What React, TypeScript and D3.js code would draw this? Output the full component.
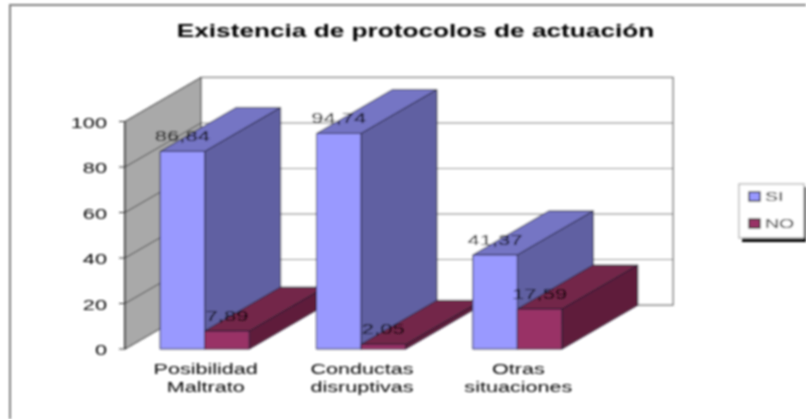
import React from 'react';
import * as d3 from 'd3';

const title = 'Existencia de protocolos de actuación';
const categories = ['Posibilidad Maltrato', 'Conductas disruptivas', 'Otras situaciones'];
const categoryLines = [['Posibilidad', 'Maltrato'], ['Conductas', 'disruptivas'], ['Otras', 'situaciones']];
const seriesNames = ['SI', 'NO'];
const si = [86.84, 94.74, 41.37];
const no = [7.89, 2.05, 17.59];
const ticks = [0, 20, 40, 60, 80, 100];

const colors: Record<string, { front: string; top: string; side: string }> = {
  SI: { front: '#9999ff', top: '#7575c4', side: '#6060a2' },
  NO: { front: '#993366', top: '#732648', side: '#5e1f3b' }
};

const width = 806;
const height = 419;
const depthX = 76;
const depthY = -44;
const font = '"Liberation Sans", Arial, sans-serif';

const y = d3.scaleLinear().domain([0, 100]).range([349, 121.5]);
const x0 = d3.scaleBand<string>().domain(categories).range([126.5, 595.5]).paddingInner(0.43).paddingOuter(0.215);
const x1 = d3.scaleBand<string>().domain(seriesNames).range([0, x0.bandwidth()]);

const poly = (pts: [number, number][]) => {
  const p = d3.path();
  pts.forEach((pt, i) => (i === 0 ? p.moveTo(pt[0], pt[1]) : p.lineTo(pt[0], pt[1])));
  p.closePath();
  return p.toString();
};

// the picture stretches its text sideways, so every label gets a horizontal scale
const Label = ({ x, y: ty, size, sx = 1.45, anchor = 'middle', weight = 400, fill = '#000', children }: any) => (
  <text
    transform={`translate(${x},${ty}) scale(${sx},1)`}
    fontSize={size}
    fontFamily={font}
    fontWeight={weight}
    textAnchor={anchor}
    fill={fill}
  >
    {children}
  </text>
);

const Bar = ({ left, w, value, name }: { left: number; w: number; value: number; name: string }) => {
  const top = y(value);
  const base = y(0);
  const c = colors[name];
  const right = left + w;
  const edge = { stroke: '#1c1c30', strokeWidth: 0.9, strokeLinejoin: 'round' as const };
  return (
    <g>
      <path
        d={poly([[right, base], [right + depthX, base + depthY], [right + depthX, top + depthY], [right, top]])}
        fill={c.side}
        {...edge}
      />
      <path
        d={poly([[left, top], [left + depthX, top + depthY], [right + depthX, top + depthY], [right, top]])}
        fill={c.top}
        {...edge}
      />
      <rect x={left} y={top} width={w} height={base - top} fill={c.front} {...edge} />
    </g>
  );
};

export default function App() {
  const backLeft = 125 + depthX;
  const backRight = 596 + depthX + 1;
  return (
    <svg
      width={width}
      height={height}
      style={{ position: 'absolute', left: 0, top: 0, display: 'block', background: '#fff' }}
    >
      <defs>
        <filter id="soft" x="0" y="0" width="100%" height="100%" filterUnits="userSpaceOnUse">
          <feGaussianBlur stdDeviation="0.8" />
        </filter>
      </defs>
      <g filter="url(#soft)">
        {/* outer chart border, open on the right */}
        <path d={`M${width},5H10V${height}`} fill="none" stroke="#808080" strokeWidth={2} />

        <Label x={415.5} y={37} size={19} sx={1.38} weight={700}>{title}</Label>

        {/* back wall and grid */}
        <rect
          x={backLeft}
          y={y(100) + depthY}
          width={backRight - backLeft}
          height={y(0) - y(100)}
          fill="#fff"
          stroke="#555"
          strokeWidth={1.2}
        />
        {ticks.filter(t => t > 0 && t < 100).map(t => (
          <line key={t} x1={backLeft} x2={backRight} y1={y(t) + depthY} y2={y(t) + depthY} stroke="#777" strokeWidth={1.1} />
        ))}

        {/* side wall */}
        <path
          d={poly([[125, y(0)], [backLeft, y(0) + depthY], [backLeft, y(100) + depthY], [125, y(100)]])}
          fill="#a9a9a9"
          stroke="#444"
          strokeWidth={0.9}
        />
        {ticks.map(t => (
          <line key={t} x1={125} x2={backLeft} y1={y(t)} y2={y(t) + depthY} stroke="#333" strokeWidth={0.9} />
        ))}

        {/* y axis */}
        <line x1={125} x2={125} y1={y(0)} y2={y(100)} stroke="#111" strokeWidth={1.4} />
        {ticks.map(t => (
          <g key={t}>
            <line x1={119} x2={125} y1={y(t)} y2={y(t)} stroke="#333" strokeWidth={1} />
            <Label x={107} y={y(t) + 6} size={15} anchor="end">{t}</Label>
          </g>
        ))}

        {categories.map((cat, i) => {
          const left = x0(cat)!;
          return (
            <g key={cat}>
              <Bar left={left + x1('SI')!} w={x1.bandwidth()} value={si[i]} name="SI" />
              <Bar left={left + x1('NO')!} w={x1.bandwidth()} value={no[i]} name="NO" />
            </g>
          );
        })}

        {/* value labels go on top of every bar */}
        {categories.map((cat, i) => (
          <g key={cat}>
            {[si[i], no[i]].map((v, j) => (
              <Label
                key={j}
                x={x0(cat)! + x1(seriesNames[j])! + x1.bandwidth() / 2}
                y={y(v) - 10}
                size={14.5}
                sx={1.52}
              >
                {v.toFixed(2).replace('.', ',')}
              </Label>
            ))}
            {categoryLines[i].map((line, j) => (
              <Label key={line} x={x0(cat)! + x0.bandwidth() / 2 + 1} y={374 + j * 17.5} size={14.5} sx={1.49}>
                {line}
              </Label>
            ))}
          </g>
        ))}

        {/* legend */}
        <rect x={742} y={187} width={64} height={55} fill="#000" />
        <rect x={739} y={184} width={65} height={54} fill="#fff" stroke="#999" strokeWidth={1} />
        {seriesNames.map((name, i) => (
          <g key={name}>
            <rect x={749} y={192 + i * 27} width={11} height={9} fill={colors[name].front} stroke="#111" strokeWidth={1.2} />
            <Label x={765} y={201 + i * 27} size={13.5} anchor="start">{name}</Label>
          </g>
        ))}
      </g>
    </svg>
  );
}
